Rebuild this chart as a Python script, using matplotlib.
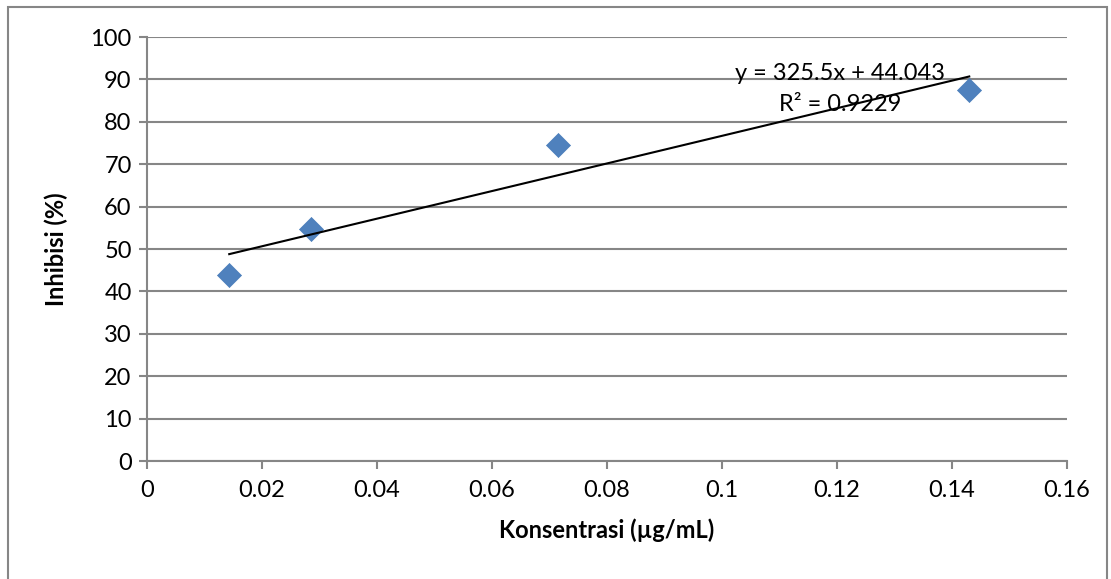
import numpy as np
import matplotlib
matplotlib.use("Agg")
import matplotlib.pyplot as plt
from matplotlib.patches import Rectangle

plt.rcParams["font.family"] = ["Lato", "DejaVu Sans"]

# data
konsentrasi = [0.0143, 0.0286, 0.0714, 0.143]
inhibisi = [43.8, 54.6, 74.5, 87.4]
eq_label = "y = 325.5x + 44.043"
r2_label = "R² = 0.9229"
x_ticks = [0, 0.02, 0.04, 0.06, 0.08, 0.1, 0.12, 0.14, 0.16]
x_tick_labels = ["0", "0.02", "0.04", "0.06", "0.08", "0.1", "0.12", "0.14", "0.16"]
y_ticks = [0, 10, 20, 30, 40, 50, 60, 70, 80, 90, 100]

grid_col = "#868686"

fig = plt.figure(figsize=(11.11, 5.79), dpi=100)
ax = fig.add_axes([147 / 1111, 1 - 461 / 579, 920 / 1111, 424 / 579])

# outer chart frame
fig.patches.append(Rectangle((8 / 1111, -0.05), 1099 / 1111, 1.05 - 7 / 579,
                             transform=fig.transFigure, fill=False,
                             edgecolor=grid_col, linewidth=1.5))

ax.scatter(konsentrasi, inhibisi, marker="D", s=150, color="#4F81BD",
           edgecolors="#4A7EBB", linewidths=0.5, zorder=3)

# linear trendline over the data range
slope, intercept = np.polyfit(konsentrasi, inhibisi, 1)
xs = np.array([min(konsentrasi), max(konsentrasi)])
ax.plot(xs, slope * xs + intercept, color="black", linewidth=1.5, zorder=4)

ax.text(0.1205, 91.5, eq_label, ha="center", va="center", fontsize=17, zorder=5)
ax.text(0.1205, 84.0, r2_label, ha="center", va="center", fontsize=17, zorder=5)

ax.set_xlim(0, 0.16)
ax.set_ylim(0, 100)
ax.set_xticks(x_ticks)
ax.set_xticklabels(x_tick_labels)
ax.set_yticks(y_ticks)
ax.yaxis.grid(True, color=grid_col, linewidth=1.5)
ax.set_axisbelow(True)

for s in ["top", "right"]:
    ax.spines[s].set_visible(False)
for s in ["left", "bottom"]:
    ax.spines[s].set_color(grid_col)
    ax.spines[s].set_linewidth(1.5)

ax.tick_params(axis="both", direction="out", length=6, width=1.5,
               color=grid_col, labelsize=17, labelcolor="black")
ax.tick_params(axis="x", pad=8)
ax.tick_params(axis="y", pad=5)

ax.set_xlabel("Konsentrasi (µg/mL)", fontsize=17, fontweight="bold", labelpad=12)
ax.set_ylabel("Inhibisi (%)", fontsize=17, fontweight="bold", labelpad=16)

fig.savefig("out.png", dpi=100)
